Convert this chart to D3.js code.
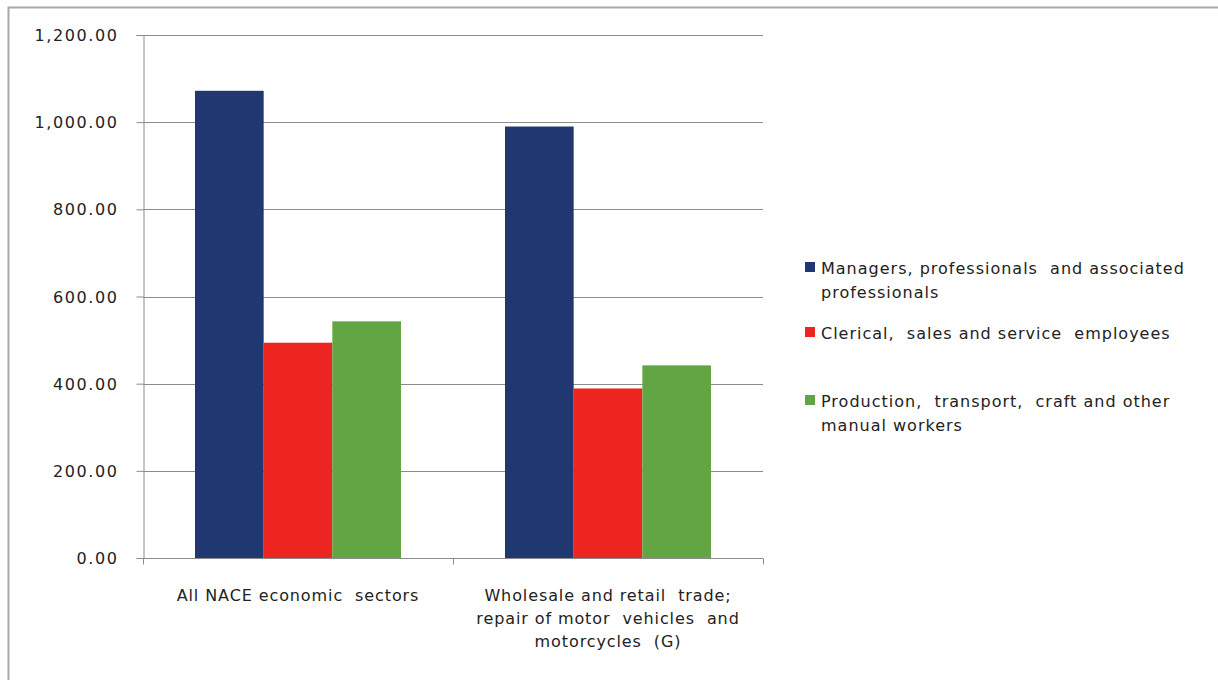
<!DOCTYPE html>
<html>
<head>
<meta charset="utf-8">
<script src="https://cdn.jsdelivr.net/npm/d3@7"></script>
<style>
  html, body { margin: 0; padding: 0; background: #fff; }
  svg { display: block; }
  text { font-family: "DejaVu Sans", Verdana, sans-serif; fill: #222; white-space: pre; }
</style>
</head>
<body>
<svg id="chart" width="1218" height="680"></svg>
<script>
// Sectors on the category axis (each label split into display lines)
const categories = ["All NACE", "G"];
const categoryLines = [
  ["All NACE economic  sectors"],
  ["Wholesale and retail  trade;", "repair of motor  vehicles  and", "motorcycles  (G)"]
];
// Occupation groups (series) and their legend lines
const seriesNames = ["managers", "clerical", "production"];
const seriesLegend = [
  ["Managers, professionals  and associated", "professionals"],
  ["Clerical,  sales and service  employees"],
  ["Production,  transport,  craft and other", "manual workers"]
];
const seriesColors = ["#213771", "#ec2520", "#62a643"];
// Values per series, one per sector
const managers = [1072, 990];
const clerical = [494, 389];
const production = [543, 442];
const yTicks = [0, 200, 400, 600, 800, 1000, 1200];

const seriesValues = [managers, clerical, production];

const svg = d3.select("#chart");

// outer frame
svg.append("rect")
  .attr("x", 8.5).attr("y", 7.5)
  .attr("width", 1230).attr("height", 700)
  .attr("fill", "none").attr("stroke", "#a9a9a9").attr("stroke-width", 2);

const plot = { left: 143, right: 763, top: 35, bottom: 558 };

const x0 = d3.scaleBand()
  .domain(categories)
  .range([plot.left, plot.right])
  .paddingInner(0).paddingOuter(0);

const x1 = d3.scaleBand()
  .domain(seriesNames)
  .range([0, x0.bandwidth()])
  .paddingOuter(0.757);

const y = d3.scaleLinear().domain([0, 1200]).range([plot.bottom, plot.top]);

// gridlines
svg.append("g")
  .selectAll("line")
  .data(yTicks.filter(d => d > 0))
  .join("line")
  .attr("x1", plot.left).attr("x2", plot.right)
  .attr("y1", d => Math.round(y(d)) + 0.5).attr("y2", d => Math.round(y(d)) + 0.5)
  .attr("stroke", "#8c8c8c").attr("stroke-width", 1);

// bars
const groups = svg.append("g")
  .selectAll("g")
  .data(categories)
  .join("g")
  .attr("transform", d => `translate(${x0(d)},0)`);

groups.selectAll("rect")
  .data((d, i) => seriesNames.map((s, k) => ({ s, v: seriesValues[k][i], c: seriesColors[k] })))
  .join("rect")
  .attr("x", d => x1(d.s))
  .attr("width", x1.bandwidth())
  .attr("y", d => y(d.v))
  .attr("height", d => y(0) - y(d.v))
  .attr("fill", d => d.c);

// y axis
const yAxis = svg.append("g")
  .attr("transform", `translate(${plot.left + 0.5},0)`)
  .call(d3.axisLeft(y).tickValues(yTicks).tickSize(7).tickPadding(18)
    .tickFormat(d => d3.format(",.2f")(d)));
yAxis.select(".domain").attr("stroke", "#8c8c8c");
yAxis.selectAll(".tick line").attr("stroke", "#8c8c8c");
yAxis.selectAll(".tick text")
  .style("font-size", "16px").style("letter-spacing", "1.6px")
  .attr("fill", "#222").attr("dy", "0.35em");

// x axis with ticks between categories
const xAxis = svg.append("g")
  .attr("transform", `translate(0,${plot.bottom + 0.5})`);
xAxis.append("line")
  .attr("x1", plot.left).attr("x2", plot.right)
  .attr("stroke", "#8c8c8c");
xAxis.selectAll("line.sep")
  .data([plot.left, ...categories.map(c => x0(c) + x0.bandwidth())])
  .join("line").attr("class", "sep")
  .attr("x1", d => d + 0.5).attr("x2", d => d + 0.5)
  .attr("y1", 0).attr("y2", 6)
  .attr("stroke", "#8c8c8c");

// category labels
categories.forEach((c, i) => {
  const cx = x0(c) + x0.bandwidth() / 2;
  const t = svg.append("text")
    .attr("text-anchor", "middle")
    .style("font-size", "16px").style("letter-spacing", "0.9px")
    .attr("y", 601);
  categoryLines[i].forEach((line, j) => {
    t.append("tspan").attr("x", cx).attr("dy", j === 0 ? 0 : 23).text(line);
  });
});

// legend
const legendTop = [268, 333, 401];
const legend = svg.append("g");
seriesNames.forEach((s, k) => {
  legend.append("rect")
    .attr("x", 805).attr("y", legendTop[k] - 6)
    .attr("width", 10).attr("height", 10)
    .attr("fill", seriesColors[k]);
  const t = legend.append("text")
    .attr("x", 821).attr("y", legendTop[k] + 6)
    .style("font-size", "16px").style("letter-spacing", "1px");
  seriesLegend[k].forEach((line, j) => {
    t.append("tspan").attr("x", 821).attr("dy", j === 0 ? 0 : 24).text(line);
  });
});
</script>
</body>
</html>
